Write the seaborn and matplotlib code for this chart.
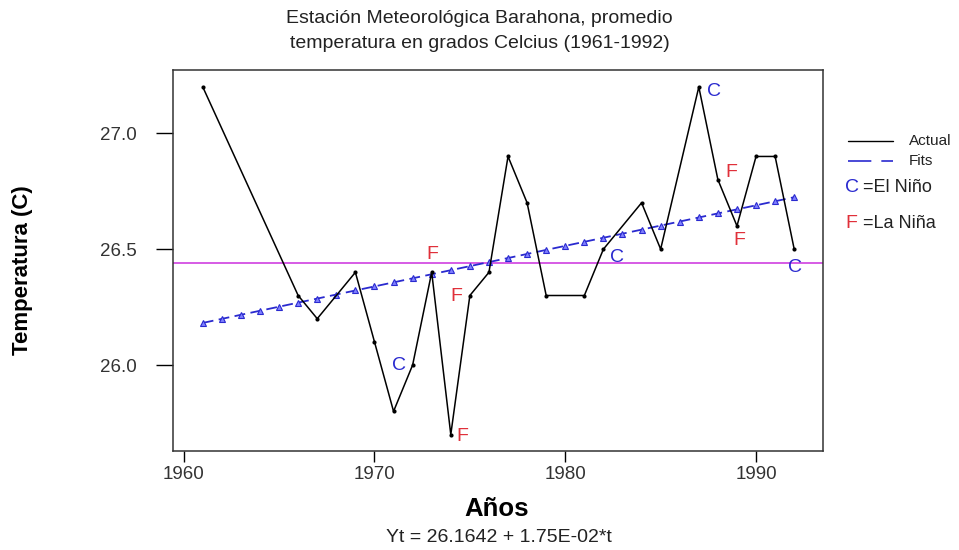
import numpy as np
import pandas as pd
import matplotlib
matplotlib.use("Agg")
import matplotlib.pyplot as plt
from matplotlib.lines import Line2D
import seaborn as sns

# ─── DATA ─────────────────────────────────────────────────────────────────────
years = [1961, 1966, 1967, 1969, 1970, 1971, 1972, 1973, 1974, 1975, 1976,
         1977, 1978, 1979, 1981, 1982, 1984, 1985, 1987, 1988, 1989, 1990,
         1991, 1992]
temps = [27.2, 26.3, 26.2, 26.4, 26.1, 25.8, 26.0, 26.4, 25.7, 26.3, 26.4,
         26.9, 26.7, 26.3, 26.3, 26.5, 26.7, 26.5, 27.2, 26.8, 26.6, 26.9,
         26.9, 26.5]

fit_years = list(range(1961, 1993))
fits = [26.1817, 26.1992, 26.2167, 26.2342, 26.2517, 26.2692, 26.2867, 26.3042,
        26.3217, 26.3392, 26.3567, 26.3742, 26.3917, 26.4092, 26.4267, 26.4442,
        26.4617, 26.4792, 26.4967, 26.5142, 26.5317, 26.5492, 26.5667, 26.5842,
        26.6017, 26.6192, 26.6367, 26.6542, 26.6717, 26.6892, 26.7067, 26.7242]

ref_level = 26.44

nino_years = [1972, 1982, 1987, 1992]
nina_years = [1973, 1974, 1975, 1988, 1989]

x_ticks = [1960, 1970, 1980, 1990]
y_ticks = [26.0, 26.5, 27.0]

# label offsets in pixels (C / F letters next to their points)
nino_offsets = {1972: (-14, 0), 1982: (14, -8), 1987: (15, -5), 1992: (1, -18)}
nina_offsets = {1973: (1, 18), 1974: (12, -2), 1975: (-14, -1),
                1988: (13, 7), 1989: (2, -15)}

# ─── STYLE ────────────────────────────────────────────────────────────────────
BLUE = '#2a2acf'
RED = '#e0303a'
MAGENTA = '#d040e0'
TXT = '#222222'

sns.set_style('white')
plt.rcParams['font.family'] = ['Liberation Sans', 'DejaVu Sans']

fig = plt.figure(figsize=(9.59, 5.5), dpi=100)
ax = fig.add_axes([0.1804, 0.18, 0.858 - 0.1804, 0.8727 - 0.18])

actual = pd.DataFrame({'year': years, 'temp': temps})
fitted = pd.DataFrame({'year': fit_years, 'fit': fits})

ax.axhline(ref_level, color=MAGENTA, lw=1.2, zorder=1)

sns.lineplot(data=fitted, x='year', y='fit', ax=ax, color=BLUE, lw=1.3,
             linestyle=(0, (6, 3)), marker='^', markersize=4.5,
             markerfacecolor='#8080ff', markeredgecolor=BLUE,
             markeredgewidth=0.8, zorder=2)
sns.lineplot(data=actual, x='year', y='temp', ax=ax, color='black', lw=1.1,
             marker='o', markersize=3, markeredgewidth=0, zorder=3)

lookup = dict(zip(years, temps))
for yr in nino_years:
    ax.annotate('C', (yr, lookup[yr]), xytext=nino_offsets[yr],
                textcoords='offset pixels', ha='center', va='center',
                color=BLUE, fontsize=14)
for yr in nina_years:
    ax.annotate('F', (yr, lookup[yr]), xytext=nina_offsets[yr],
                textcoords='offset pixels', ha='center', va='center',
                color=RED, fontsize=14)

ax.set_xlim(1959.44, 1993.5)
ax.set_ylim(25.629, 27.273)
ax.set_xticks(x_ticks)
ax.set_yticks(y_ticks)
ax.set_yticklabels([f'{v:.1f}' for v in y_ticks])
ax.tick_params(direction='out', width=1, colors='black',
               labelsize=13.5, labelcolor='#333333', left=True, bottom=True)
ax.tick_params(axis='x', length=8, pad=3)
ax.tick_params(axis='y', length=12, pad=14)
for sp in ax.spines.values():
    sp.set_color('#333333')
    sp.set_linewidth(1.1)
ax.set_xlabel('')
ax.set_ylabel('')

fig.text(0.5, 0.966, 'Estación Meteorológica Barahona, promedio',
         ha='center', va='center', fontsize=14, color=TXT)
fig.text(0.5, 0.920, 'temperatura en grados Celcius (1961-1992)',
         ha='center', va='center', fontsize=14, color=TXT)
fig.text(0.023, 0.509, 'Temperatura (C)', rotation=90, ha='center',
         va='center', fontsize=16, fontweight='bold', color='black')
fig.text(0.518, 0.0745, 'Años', ha='center', va='center', fontsize=18.5,
         fontweight='bold', color='black')
fig.text(0.52, 0.022, 'Yt = 26.1642 + 1.75E-02*t', ha='center',
         va='center', fontsize=14, color=TXT)

# ─── LEGEND (outside, right) ──────────────────────────────────────────────────
W, H = 959, 550
fig.add_artist(Line2D([848 / W, 893 / W], [1 - 141 / H, 1 - 141 / H],
                      color='black', lw=1.0))
fig.add_artist(Line2D([848 / W, 893 / W], [1 - 161 / H, 1 - 161 / H],
                      color=BLUE, lw=1.2, linestyle=(0, (14, 6))))
fig.text(909 / W, 1 - 141 / H, 'Actual', ha='left', va='center',
         fontsize=11, color=TXT)
fig.text(909 / W, 1 - 161 / H, 'Fits', ha='left', va='center',
         fontsize=11, color=TXT)
fig.text(845 / W, 1 - 188 / H, 'C', ha='left', va='center', fontsize=14,
         color=BLUE)
fig.text(863 / W, 1 - 188 / H, '=El Niño', ha='left', va='center',
         fontsize=13, color=TXT)
fig.text(845 / W, 1 - 224 / H, 'F', ha='left', va='center', fontsize=14,
         color=RED)
fig.text(863 / W, 1 - 224 / H, '=La Niña', ha='left', va='center',
         fontsize=13, color=TXT)

fig.savefig('out.png', dpi=100)
